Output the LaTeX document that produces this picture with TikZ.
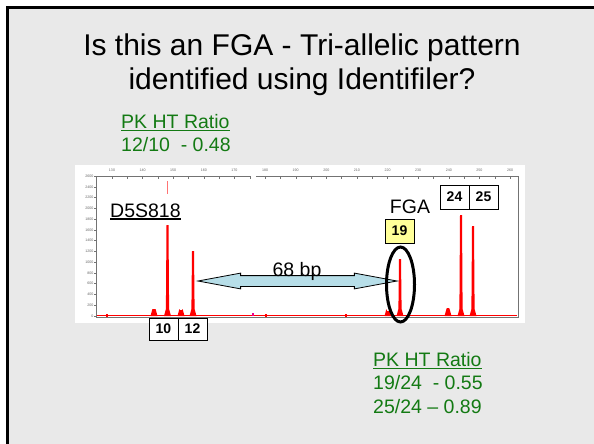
\documentclass[tikz,border=0pt]{standalone}
\usepackage{fontspec}
\setmainfont{Liberation Sans}
\usetikzlibrary{positioning,shapes.geometric,shapes.arrows}
\definecolor{slidebg}{HTML}{E9E9E9}
\definecolor{ratiogreen}{HTML}{137A13}
\definecolor{peakred}{HTML}{FF0000}
\definecolor{arrowfill}{HTML}{B7DEE8}
\definecolor{allelehi}{HTML}{FFFF99}
\newcommand{\fsz}[2]{\fontsize{#1}{#2}\selectfont}
\newcommand{\ulbar}[1]{\setbox0\hbox{#1}\rlap{\rule[-2.8pt]{\wd0}{1.5pt}}\box0}
\tikzset{
  title/.style    = {font=\fsz{30}{34}, align=center, inner sep=0pt},
  ratio/.style    = {font=\fsz{19.5}{23.5}, text=ratiogreen, align=left, inner sep=0pt},
  locus/.style    = {font=\fsz{19.5}{19.5}, inner sep=0pt},
  allele/.style   = {draw, fill=white, font=\bfseries\fsz{14}{14}, minimum width=29pt,
                     minimum height=22pt, inner sep=0pt, outer sep=0pt, line width=0.8pt},
  axis/.style     = {draw=black!55, line width=0.4pt},
  ticklbl/.style  = {font=\fsz{3.6}{3.6}, text=black!60, inner sep=0pt},
  ring/.style     = {ellipse, draw, line width=3pt, minimum width=28pt, minimum height=75pt,
                     inner sep=0pt},
  gaparrow/.style = {double arrow, draw, fill=arrowfill, line width=0.8pt, inner sep=5pt,
                     minimum height=199pt, double arrow head extend=2.5pt,
                     double arrow tip angle=21},
}

\begin{document}
\begin{tikzpicture}[x=1pt, y=-1pt]
  \useasboundingbox (0,0) rectangle (594,444);
  % slide
  \fill[slidebg] (7.5,8) rectangle (594,444);
  \draw[line width=3pt] (7.5,444) -- (7.5,8) -- (594,8);
  \node[title, anchor=north] (head) at (302,34)
    {Is this an FGA - Tri-allelic pattern\\identified using Identifiler?};
  \node[ratio, anchor=north west] (pkleft) at (121,114)
    {\ulbar{PK HT Ratio}\\12/10\ \ - 0.48};

  % electropherogram
  \fill[white] (75,165) rectangle (525,323);
  \draw[axis] (96,176) -- (96,317) -- (518,317) -- (518,176);
  \draw[axis] (96,176) -- (251,176);
  \draw[axis] (256,176) -- (518,176);
  \foreach \b in {130,135,...,175}
    \draw[axis] ({112+(\b-130)*3.062},176) -- ++(0,2.5);
  \foreach \b in {180,185,...,260}
    \draw[axis] ({112+(\b-130)*3.062},176) -- ++(0,2.5);
  \foreach \b in {130,140,...,260}
    \node[ticklbl] at ({112+(\b-130)*3.062},170.5) {\b};
  \foreach \v in {0,200,...,2600} {
    \draw[axis] (94,{316-\v*0.05385}) -- (96,{316-\v*0.05385});
    \node[ticklbl, anchor=east] at (93.5,{316-\v*0.05385}) {\v};
  }
  \draw[peakred, line width=1pt] (97,315.5) -- (517,315.5);
  \foreach \px/\ptop in {167.5/225, 193/251, 400/259, 461/215, 473/226,
                         154/309, 181/310, 448/308, 388/311}
    \fill[peakred] ({\px-3.5},316) -- ({\px-1.6},309) -- ({\px-1},\ptop)
      -- ({\px+1},\ptop) -- ({\px+1.6},309) -- ({\px+3.5},316) -- cycle;
  \draw[peakred!55, line width=1.4pt] (167.5,181) -- (167.5,194);
  \foreach \sx in {107,266,346}
    \fill[peakred] ({\sx-1},314) rectangle ({\sx+1},317);
  \fill[magenta] (252,312.5) rectangle (254,316);

  % loci and alleles
  \node[locus, anchor=base west] (d5) at (110,217) {\ulbar{D5S818}};
  \node[locus, anchor=base] (fga) at (410,213) {FGA};
  \node[allele, minimum height=24pt] (a24) at (454.5,197) {24};
  \node[allele, minimum height=24pt, right=0pt of a24] (a25) {25};
  \node[allele, minimum height=24pt, fill=allelehi] (a19) at (399.5,231) {19};
  \node[allele] (a10) at (163.5,329) {10};
  \node[allele, right=0pt of a10] (a12) {12};

  \node[gaparrow] (gap) at (297.5,281) {};
  \node[locus, anchor=base] (bp) at (297,276) {68 bp};
  \node[ring] (ring19) at (400.5,284.5) {};

  \node[ratio, anchor=north west] (pkright) at (373,352)
    {\ulbar{PK HT Ratio}\\19/24\ \ - 0.55\\25/24 -- 0.89};
\end{tikzpicture}
\end{document}
